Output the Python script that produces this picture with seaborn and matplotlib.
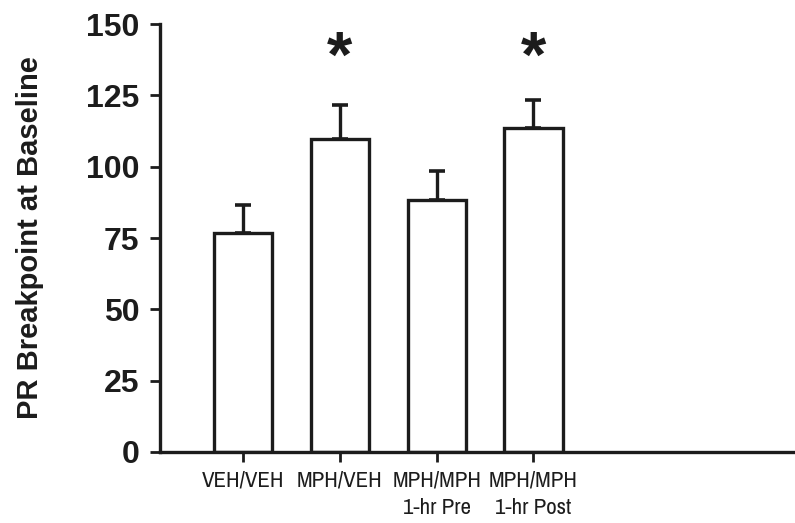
import matplotlib
matplotlib.use("Agg")
import matplotlib.pyplot as plt
import seaborn as sns
import pandas as pd
import numpy as np
from matplotlib import font_manager

categories = ["VEH/VEH", "MPH/VEH", "MPH/MPH\n1-hr Pre", "MPH/MPH\n1-hr Post"]
means = [76.8, 109.7, 88.4, 113.6]
sems = [9.9, 11.8, 10.1, 9.8]
significant = [False, True, False, True]
y_ticks = [0, 25, 50, 75, 100, 125, 150]

sns.set_theme(style="white")
plt.rcParams['font.family'] = ['Liberation Sans', 'DejaVu Sans']

fonts = font_manager.fontManager.ttflist
narrow_name = None
narrow_stretch = "normal"
for key in ["Narrow", "Condensed"]:
    cands = sorted({f.name for f in fonts if key in f.name})
    if cands:
        narrow_name = cands[0]
        break
if narrow_name is None:
    cond = [f for f in fonts if f.stretch in ("condensed", "semi-condensed", "extra-condensed", 75, 87.5)]
    if cond:
        narrow_name = cond[0].name
        narrow_stretch = "condensed"
label_font = dict(family=narrow_name, stretch=narrow_stretch, fontsize=16.5) if narrow_name else dict(family="Liberation Sans", fontsize=13)

df = pd.DataFrame({"group": categories, "value": means})

fig = plt.figure(figsize=(7.95, 5.23), dpi=100)
ax = fig.add_axes([0.2013, 0.1358, 0.7987, 0.8182])
edge = "#1c1c1c"
sns.barplot(data=df, x="group", y="value", ax=ax, color="white", edgecolor=edge,
            linewidth=2.4, width=0.6, errorbar=None, saturation=1)
xs = np.arange(len(categories))
ax.errorbar(xs, means, yerr=[np.zeros(len(means)), sems], fmt="none", ecolor=edge,
            elinewidth=2.4, capsize=6, capthick=2.6, zorder=1)
for x, m, s, sig in zip(xs, means, sems, significant):
    if sig:
        ax.text(x, 137.5, "*", ha="center", va="center", fontsize=47, fontweight="bold", color=edge)

ax.set_ylim(0, 150)
ax.set_xlim(-0.856, 5.7)
ax.set_yticks(y_ticks)
ax.set_yticklabels([str(t) for t in y_ticks], fontsize=23, fontweight="bold", color=edge)
ax.set_xticks(xs)
ax.set_xticklabels(categories, color=edge, linespacing=1.5, **label_font)
ax.set_xlabel("")
ax.set_ylabel("PR Breakpoint at Baseline", fontsize=21, fontweight="bold", color=edge, labelpad=30)
for side in ["top", "right"]:
    ax.spines[side].set_visible(False)
for side in ["left", "bottom"]:
    ax.spines[side].set_color(edge)
    ax.spines[side].set_linewidth(2.4)
ax.tick_params(axis="y", direction="out", length=7, width=2, color=edge, left=True, pad=8)
ax.tick_params(axis="x", direction="out", length=7, width=2, color=edge, bottom=True, pad=6)
fig.savefig("out.png", dpi=100)
